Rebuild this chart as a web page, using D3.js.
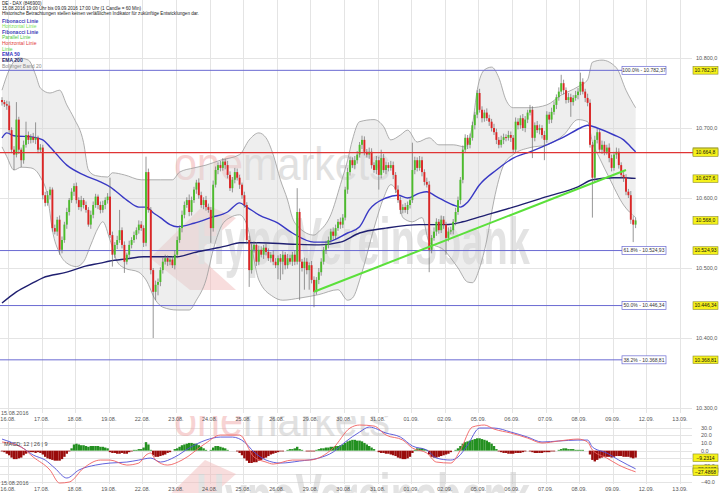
<!DOCTYPE html>
<html>
<head>
<meta charset="utf-8">
<script src="https://cdn.jsdelivr.net/npm/d3@7/dist/d3.min.js"></script>
<style>
  body { margin: 0; background: #fff; }
  svg { display: block; font-family: "Liberation Sans", Arial, sans-serif; }
  .grid line { stroke: #e4e4e4; stroke-width: 1px; shape-rendering: crispEdges; }
  .ticklbl { fill: #555; font-size: 5.5px; }
  .hdr { fill: #222; font-size: 4.6px; }
  .leg { font-size: 5px; }
  .tag rect { fill: #f6f21a; stroke: #8a8a30; stroke-width: 0.6px; }
  .tag text { fill: #111; font-size: 5px; }
  .fibbox rect { fill: #fff; stroke: #6a6ad2; stroke-width: 0.7px; }
  .fibbox text { fill: #333; font-size: 5px; }
</style>
</head>
<body>
<svg id="chart" width="720" height="493"></svg>
<script>
// hourly candles 15.08.2016 19:00 .. 09.09.2016 17:00, 14 per trading day
var dayLabels = ["16.08.","17.08.","18.08.","19.08.","22.08.","23.08.","24.08.","25.08.","26.08.","29.08.",
  "30.08.","31.08.","01.09.","02.09.","05.09.","06.09.","07.09.","08.09.","09.09.","12.09.","13.09."];

var firstOpen = 10740;
var closes = [
  10737, 10734, 10732,
  10697, 10669, 10662, 10712, 10669, 10654, 10676, 10690, 10683, 10687, 10683, 10686, 10669, 10672,
  10604, 10593, 10604, 10612, 10557, 10552, 10569, 10526, 10540, 10562, 10580, 10597, 10609, 10617,
  10597, 10587, 10597, 10590, 10583, 10562, 10576, 10590, 10602, 10590, 10583, 10590, 10597, 10602,
  10547, 10519, 10533, 10540, 10554, 10533, 10509, 10519, 10533, 10540, 10547, 10554, 10562, 10557,
  10536, 10637, 10583, 10497, 10466, 10476, 10480, 10497, 10509, 10514, 10509, 10512, 10504, 10519,
  10540, 10557, 10576, 10590, 10597, 10580, 10597, 10612, 10622, 10604, 10590, 10597, 10587, 10583,
  10557, 10619, 10640, 10647, 10643, 10652, 10647, 10633, 10614, 10626, 10637, 10629, 10619, 10604,
  10590, 10540, 10497, 10526, 10533, 10509, 10526, 10519, 10529, 10523, 10514, 10519, 10509, 10504,
  10514, 10509, 10519, 10504, 10514, 10509, 10519, 10509, 10580, 10509, 10500, 10509, 10497, 10504,
  10483, 10466, 10483, 10494, 10509, 10526, 10533, 10540, 10552, 10546, 10557, 10566, 10562, 10572,
  10612, 10637, 10654, 10647, 10654, 10662, 10676, 10683, 10666, 10662, 10666, 10647, 10640, 10654,
  10633, 10657, 10640, 10647, 10643, 10647, 10633, 10612, 10597, 10583, 10587, 10583, 10590, 10597,
  10640, 10654, 10643, 10654, 10637, 10623, 10619, 10526, 10543, 10552, 10566, 10554, 10569, 10562,
  10543, 10552, 10554, 10566, 10580, 10597, 10626, 10669, 10686, 10676, 10686, 10704, 10719, 10750,
  10726, 10714, 10722, 10714, 10709, 10700, 10694, 10683, 10676, 10683, 10687, 10686, 10690, 10686,
  10669, 10709, 10704, 10714, 10700, 10712, 10722, 10726, 10686, 10704, 10697, 10700, 10690, 10683,
  10719, 10712, 10723, 10733, 10744, 10752, 10764, 10754, 10740, 10744, 10737, 10743, 10747, 10752,
  10766, 10752, 10743, 10736, 10676, 10629, 10683, 10694, 10669, 10676, 10666, 10672, 10657, 10643,
  10662, 10666, 10647, 10633, 10629, 10609, 10604, 10569, 10562, 10568
];
// wick lengths above / below the body, in index points
var upWick = [
  4, 3, 5,
  6, 4, 5, 25, 4, 3, 6, 19, 5, 4, 6, 22, 3, 5,
  4, 5, 6, 4, 3, 5, 4, 6, 5, 4, 6, 3, 5, 4,
  5, 4, 6, 3, 5, 4, 6, 5, 4, 3, 5, 6, 4, 5,
  27, 5, 4, 6, 29, 4, 5, 3, 6, 4, 5, 4, 6, 5,
  4, 22, 5, 4, 3, 6, 5, 4, 6, 5, 4, 3, 5, 6,
  5, 4, 6, 5, 4, 8, 5, 4, 4, 6, 5, 4, 6, 5,
  4, 6, 5, 4, 6, 5, 4, 6, 5, 4, 6, 5, 4, 3,
  5, 4, 6, 8, 5, 4, 6, 5, 4, 6, 5, 4, 6, 5,
  4, 6, 5, 4, 6, 5, 4, 6, 34, 5, 4, 6, 5, 4,
  6, 5, 4, 6, 5, 4, 6, 5, 4, 6, 5, 4, 6, 5,
  4, 6, 5, 4, 6, 5, 4, 6, 5, 4, 6, 5, 4, 6,
  5, 12, 6, 5, 4, 6, 5, 4, 6, 5, 4, 6, 5, 4,
  39, 5, 4, 6, 5, 4, 6, 5, 4, 6, 5, 4, 6, 5,
  4, 6, 5, 4, 6, 5, 4, 6, 5, 4, 6, 5, 4, 4,
  6, 5, 4, 6, 5, 4, 6, 5, 4, 6, 5, 4, 6, 5,
  4, 6, 5, 4, 6, 5, 4, 7, 5, 4, 6, 5, 4, 6,
  5, 4, 6, 5, 4, 6, 12, 5, 4, 6, 5, 4, 6, 5,
  13, 5, 4, 6, 5, 4, 6, 5, 4, 6, 5, 4, 6, 5,
  4, 6, 5, 4, 6, 5, 4, 6, 5, 4
];
var downWick = [
  5, 4, 6,
  4, 5, 22, 4, 6, 10, 5, 4, 6, 5, 4, 6, 5, 4,
  6, 5, 4, 6, 5, 4, 6, 7, 5, 4, 6, 5, 4, 6,
  5, 4, 6, 5, 4, 3, 6, 5, 4, 6, 5, 4, 6, 5,
  4, 17, 5, 6, 4, 5, 16, 4, 6, 5, 4, 6, 5, 4,
  6, 5, 4, 6, 66, 12, 15, 6, 5, 4, 6, 5, 4, 6,
  5, 4, 6, 5, 4, 6, 5, 4, 6, 5, 4, 6, 5, 4,
  21, 5, 4, 6, 5, 4, 6, 5, 4, 6, 5, 4, 6, 5,
  4, 6, 24, 5, 4, 6, 5, 4, 6, 5, 4, 6, 5, 4,
  20, 26, 18, 6, 5, 4, 6, 5, 4, 55, 5, 31, 6, 28,
  5, 22, 4, 6, 5, 4, 6, 5, 4, 6, 5, 4, 6, 5,
  4, 6, 5, 4, 6, 5, 4, 6, 5, 4, 6, 5, 4, 6,
  21, 5, 4, 6, 5, 4, 6, 5, 4, 6, 5, 4, 6, 5,
  4, 6, 5, 4, 6, 5, 4, 32, 5, 4, 6, 5, 4, 6,
  24, 5, 4, 6, 5, 4, 6, 5, 4, 6, 5, 4, 6, 5,
  4, 6, 5, 4, 6, 5, 4, 6, 5, 4, 6, 5, 4, 6,
  5, 4, 6, 5, 4, 6, 5, 4, 29, 5, 4, 6, 5, 29,
  4, 6, 5, 4, 6, 5, 4, 6, 5, 4, 21, 5, 4, 6,
  5, 4, 6, 5, 4, 57, 6, 5, 4, 6, 5, 4, 6, 5,
  4, 6, 5, 4, 6, 5, 4, 6, 25, 5
];

var ema50 = [[0,10686],[2,10693],[5,10689],[13,10687],[17,10683],[20,10673],[27,10647],[34,10633],[41,10623],
  [45,10616],[52,10597],[57,10587],[60,10587],[63,10579],[66,10572],[70,10562],[73,10559],[80,10564],[87,10572],
  [94,10580],[99,10593],[102,10587],[107,10576],[115,10564],[121,10550],[130,10537],[135,10537],[144,10550],
  [149,10559],[153,10583],[160,10600],[165,10604],[169,10600],[174,10607],[177,10609],[181,10602],[188,10590],
  [191,10587],[194,10594],[199,10619],[206,10640],[213,10657],[220,10666],[227,10676],[234,10687],[241,10700],
  [244,10704],[248,10700],[255,10690],[259,10683],[262,10673],[264,10666]];
var ema200 = [[0,10450],[6,10466],[13,10479],[17,10486],[27,10494],[34,10502],[41,10507],[45,10510],[52,10513],
  [59,10516],[66,10516],[73,10516],[80,10522],[87,10527],[94,10532],[99,10536],[107,10536],[121,10534],
  [132,10533],[141,10537],[149,10550],[160,10557],[174,10562],[185,10562],[192,10566],[199,10573],[213,10587],
  [227,10602],[240,10616],[246,10626],[255,10629],[259,10629],[264,10628]];
var bbUpper = [[0,10754],[3,10783],[7,10800],[11,10797],[14,10776],[16,10757],[20,10750],[24,10754],[27,10733],
  [30,10714],[34,10679],[36,10640],[39,10632],[44,10630],[46,10636],[51,10633],[58,10626],[66,10626],[71,10626],
  [74,10637],[80,10643],[85,10647],[91,10654],[99,10662],[103,10683],[107,10693],[110,10686],[113,10662],
  [116,10626],[119,10597],[121,10572],[124,10557],[130,10547],[132,10552],[137,10576],[141,10619],[144,10654],
  [146,10683],[149,10709],[155,10712],[159,10702],[162,10683],[166,10690],[169,10697],[173,10680],[178,10686],
  [182,10676],[188,10676],[193,10673],[196,10704],[198,10754],[201,10783],[204,10787],[207,10772],[210,10740],
  [213,10729],[220,10729],[227,10733],[233,10747],[240,10759],[244,10769],[246,10794],[250,10797],[256,10786],
  [260,10754],[264,10729]];
var bbLower = [[0,10673],[2,10659],[5,10640],[8,10644],[12,10643],[16,10630],[19,10602],[21,10554],[24,10521],
  [27,10507],[31,10502],[34,10509],[37,10533],[40,10557],[42,10566],[45,10540],[48,10509],[51,10500],[57,10494],
  [60,10483],[64,10454],[67,10444],[73,10440],[78,10440],[81,10454],[85,10483],[88,10526],[91,10557],[95,10572],
  [99,10576],[102,10562],[107,10483],[113,10459],[117,10454],[124,10457],[132,10462],[140,10469],[144,10454],
  [146,10457],[150,10494],[155,10557],[159,10600],[162,10619],[165,10604],[167,10572],[171,10566],[175,10572],
  [178,10537],[184,10526],[190,10500],[194,10480],[196,10479],[199,10500],[202,10540],[205,10597],[209,10647],
  [213,10662],[220,10672],[227,10676],[234,10690],[240,10712],[244,10709],[246,10680],[249,10657],[253,10629],
  [259,10590],[264,10572]];

var trendFrom = [130, 10466], trendTo = [260, 10640];
var redLevel = 10664.8;
var fibPcts = ["100.0%", "61.8%", "50.0%", "38.2%"];
var fibValues = [10782.37, 10524.93, 10446.34, 10368.81];
var priceTicks = [10800, 10700, 10600, 10500, 10400, 10300];
var tagValues = [10782.37, 10666.3, 10664.8, 10627.6, 10568.0, 10524.93, 10446.34, 10368.81];
var tagDigits = [2, 1, 1, 1, 1, 2, 2, 2];

// MACD 12 | 26 | 9
var macdHist = [
  -1, -2, -4,
  -6, -9, -11, -11, -10, -9, -6, -4, -2, -2, -2, -3, -2, -3,
  -5, -8, -10, -11, -12, -13, -13, -13, -11, -8, -4, -1, 3, 8,
  9, 8, 7, 7, 6, 5, 6, 6, 6, 6, 5, 5, 4, 3,
  -2, -3, -3, -4, -4, -3, -4, -4, -2, -1, 1, 1, 2, 2,
  4, 11, 8, 1, -6, -8, -8, -7, -6, -5, -3, -2, 0, 2,
  3, 5, 7, 8, 9, 10, 10, 9, 9, 7, 5, 3, 1, 0,
  1, 4, 6, 6, 5, 4, 3, 1, 0, 0, 0, -1, -3, -6,
  -10, -13, -16, -16, -15, -15, -13, -12, -10, -9, -7, -5, -4, -3,
  -2, -1, -1, 0, 1, 2, 2, 3, 5, 2, 1, 0, -1, -1,
  -1, -1, 1, 2, 3, 3, 4, 4, 5, 5, 6, 6, 7, 8,
  10, 12, 13, 14, 14, 13, 13, 12, 10, 8, 6, 4, 2, 0,
  -2, -3, -3, -4, -4, -5, -6, -7, -9, -10, -11, -11, -10, -8,
  -3, 1, 3, 3, 3, 2, 1, -5, -8, -9, -9, -8, -7, -6,
  -5, -4, -2, 0, 1, 3, 6, 9, 11, 12, 13, 14, 15, 16,
  16, 15, 14, 13, 11, 9, 6, 2, -1, -2, -3, -3, -4, -4,
  -4, -3, -3, -3, -2, -1, 0, -1, -2, -3, -3, -3, -3, -2,
  -2, -2, -1, -1, 0, 1, 2, 3, 3, 2, 2, 2, 1, 1,
  1, 1, 0, 0, -5, -12, -14, -12, -10, -9, -8, -8, -8, -9,
  -8, -7, -7, -7, -8, -8, -8, -9, -10, -9
];
var macdLine = [[0,11.2],[8,4.7],[13,-8.3],[20,-25.2],[24,-42],[28,-40.7],[34,-22.6],[41,-12.2],[45,-12.2],
  [52,-18.7],[57,-16.1],[60,-5.7],[62,-3.1],[64,-12.2],[69,-18.7],[75,-12.2],[85,9.9],[91,20.2],[99,20.2],
  [105,-8.3],[110,-14.8],[113,-17.4],[121,-12.2],[128,-12.2],[138,3.4],[145,29.3],[149,33.2],[155,31.9],
  [160,20.2],[167,13.7],[171,3.4],[177,-3.1],[181,-14.8],[187,-16.1],[191,0.8],[196,30.6],[201,33.2],
  [205,28],[212,22.8],[219,16.3],[225,9.9],[232,12.5],[240,15],[244,11.2],[246,0.8],[252,-9.6],[257,-18.7],
  [264,-27.5]];
var signalLine = [[0,15],[8,4.7],[13,-5.7],[18,-12.2],[22,-22.6],[27,-35.5],[32,-25.2],[39,-18.7],[45,-16.1],
  [52,-14.8],[57,-12.2],[62,-9.6],[66,-14.8],[72,-8.3],[78,3.4],[85,13.7],[91,17.6],[96,17.6],[101,11.2],
  [105,-1.8],[110,-12.2],[116,-16.1],[124,-13.5],[132,-9.6],[138,-1.8],[143,11.2],[149,24.1],[153,30.6],
  [160,22.8],[166,17.6],[171,6],[177,0.8],[181,-9.6],[187,-12.2],[190,-8.3],[194,7.3],[199,29.3],[205,29.3],
  [212,24.1],[219,17.6],[225,11.2],[232,12.5],[240,13.7],[244,13.7],[246,4.7],[252,-3.1],[257,-12.2],
  [264,-23.6]];
var macdTicks = [30, 20, 10, 0, -10, -20, -30, -40];
var macdTags = [-9.2314, -23.6187, -27.4868];

var header = ["DE - DAX (846900)",
  "15.08.2016 19:00 Uhr bis 09.09.2016 17:00 Uhr (1 Candle = 60 Min)",
  "Historische Betrachtungen stellen keinen verläßlichen Indikator für zukünftige Entwicklungen dar."];
var legendNames = ["Fibonacci Linie", "Horizontal Linie", "Fibonacci Linie", "Parallel Linie", "Horizontal Linie",
  "Linie", "EMA 50", "EMA 200", "Bollinger Band 20"];
var legendColors = ["#4040b8", "#7be05a", "#4040b8", "#4cc83a", "#e23a3a", "#5ad63c", "#3434c0", "#1c1c6a", "#8a8a8a"];
var legendBold = [true, false, true, false, false, false, true, true, false];

var svg = d3.select("#chart");
var de = d3.formatLocale({decimal: ",", thousands: ".", grouping: [3], currency: ["", ""]});

var x = d3.scaleLinear().domain([0, 264]).range([2, 635.6]);
var y = d3.scaleLinear().domain([10300, 10800]).range([408, 58]);
var ym = d3.scaleLinear().domain([-40, 30]).range([481.5, 427.5]);
var dayX = function(d) { return x(3 + 14 * d - 0.5); };

var mainTop = 0, mainBot = 413, subTop = 422, subBot = 484, gridRight = 692;

// grids
var grid = svg.append("g").attr("class", "grid");
[[mainTop, mainBot], [subTop, subBot]].forEach(function(p) {
  grid.selectAll(null).data(dayLabels).enter().append("line")
    .attr("x1", function(d, i) { return Math.round(dayX(i)) + 0.5; })
    .attr("x2", function(d, i) { return Math.round(dayX(i)) + 0.5; })
    .attr("y1", p[0]).attr("y2", p[1]);
});
grid.selectAll(null).data(priceTicks).enter().append("line")
  .attr("x1", 0).attr("x2", gridRight)
  .attr("y1", function(d) { return Math.round(y(d)) + 0.5; })
  .attr("y2", function(d) { return Math.round(y(d)) + 0.5; });
grid.selectAll(null).data(macdTicks).enter().append("line")
  .attr("x1", 0).attr("x2", gridRight)
  .attr("y1", function(d) { return Math.round(ym(d)) + 0.5; })
  .attr("y2", function(d) { return Math.round(ym(d)) + 0.5; });

// watermark, same artwork in both panels, clipped
var defs = svg.append("defs");
defs.append("clipPath").attr("id", "clipMain").append("rect").attr("x", 0).attr("y", 0).attr("width", 692).attr("height", mainBot);
defs.append("clipPath").attr("id", "clipSub").append("rect").attr("x", 0).attr("y", 416).attr("width", 692).attr("height", 77);
function watermark(g, oy) {
  var w = g.append("g").attr("transform", "translate(0," + oy + ")").attr("opacity", 0.5);
  var t = w.append("text").attr("x", 174).attr("y", 0).style("font-size", "46px")
    .attr("textLength", 216).attr("lengthAdjust", "spacingAndGlyphs");
  t.append("tspan").attr("fill", "#f0a8a8").text("one");
  t.append("tspan").attr("fill", "#c4c4c4").text("markets");
  w.append("path").attr("fill", "#f3bcbc")
    .attr("d", "M150,78 L205,24 L236,38 L196,74 L236,110 L190,110 Z");
  w.append("text").attr("x", 196).attr("y", 84).attr("fill", "#c8c8c8")
    .style("font-size", "66px").style("font-weight", "bold")
    .attr("textLength", 334).attr("lengthAdjust", "spacingAndGlyphs").text("HypoVereinsbank");
}
watermark(svg.append("g").attr("clip-path", "url(#clipMain)"), 180);
watermark(svg.append("g").attr("clip-path", "url(#clipSub)"), 436);

// bollinger fill + outlines
var line = d3.line().x(function(d) { return x(d[0]); }).y(function(d) { return y(d[1]); }).curve(d3.curveMonotoneX);
var lowerRev = bbLower.slice().reverse();
svg.append("path")
  .attr("d", line(bbUpper) + "L" + line(lowerRev).slice(1) + "Z")
  .attr("fill", "#d9d9d9").attr("fill-opacity", 0.45);
[bbUpper, bbLower].forEach(function(b) {
  svg.append("path").attr("d", line(b)).attr("fill", "none").attr("stroke", "#9a9a9a").attr("stroke-width", 0.8);
});

// fibonacci levels
svg.selectAll(".fib").data(fibValues).enter().append("line")
  .attr("x1", 0).attr("x2", 622)
  .attr("y1", function(d) { return y(d); }).attr("y2", function(d) { return y(d); })
  .attr("stroke", "#6a6ad2").attr("stroke-width", 1);

// EMAs
svg.append("path").attr("d", line(ema200)).attr("fill", "none").attr("stroke", "#1f1f70").attr("stroke-width", 1.4);
svg.append("path").attr("d", line(ema50)).attr("fill", "none").attr("stroke", "#3838c4").attr("stroke-width", 1.4);

// candles
var candles = closes.map(function(c, i) {
  var o = i ? closes[i - 1] : firstOpen;
  return {i: i, o: o, c: c, h: Math.max(o, c) + upWick[i], l: Math.min(o, c) - downWick[i]};
});
var cg = svg.append("g");
cg.selectAll("line").data(candles).enter().append("line")
  .attr("x1", function(d) { return x(d.i); }).attr("x2", function(d) { return x(d.i); })
  .attr("y1", function(d) { return y(d.h); }).attr("y2", function(d) { return y(d.l); })
  .attr("stroke", "#6a6a6a").attr("stroke-width", 0.7);
cg.selectAll("rect").data(candles).enter().append("rect")
  .attr("x", function(d) { return x(d.i) - 0.95; })
  .attr("width", 1.9)
  .attr("y", function(d) { return y(Math.max(d.o, d.c)); })
  .attr("height", function(d) { return Math.max(1, Math.abs(y(d.o) - y(d.c))); })
  .attr("fill", function(d) { return d.c >= d.o ? "#4cbc2c" : "#dc2626"; });

// trend line and horizontal level
svg.append("line")
  .attr("x1", x(trendFrom[0])).attr("y1", y(trendFrom[1]))
  .attr("x2", x(trendTo[0])).attr("y2", y(trendTo[1]))
  .attr("stroke", "#5be03a").attr("stroke-width", 2);
svg.append("line")
  .attr("x1", 0).attr("x2", 696).attr("y1", y(redLevel)).attr("y2", y(redLevel))
  .attr("stroke", "#e03434").attr("stroke-width", 1.4);

// fib label boxes
var fb = svg.selectAll(".fibbox").data(fibValues).enter().append("g").attr("class", "fibbox")
  .attr("transform", function(d) { return "translate(622," + y(d) + ")"; });
fb.append("rect").attr("x", 0).attr("y", -4).attr("width", 44).attr("height", 8);
fb.append("text").attr("x", 22).attr("y", 1.8).attr("text-anchor", "middle")
  .text(function(d, i) { return fibPcts[i] + " - " + de.format(",.2f")(d); });

// price axis
var ax = svg.append("g").attr("transform", "translate(696,0)")
  .call(d3.axisRight(y).tickValues(priceTicks).tickSize(0).tickPadding(0).tickFormat(de.format(",.1f")));
ax.select(".domain").remove();
ax.selectAll("text").attr("class", "ticklbl").attr("font-size", null).attr("fill", null);

var tg = svg.selectAll(".ptag").data(tagValues).enter().append("g").attr("class", "tag")
  .attr("transform", function(d) { return "translate(693," + y(d) + ")"; });
tg.append("rect").attr("x", 0).attr("y", -3.8).attr("width", 25).attr("height", 7.6);
tg.append("text").attr("x", 12.5).attr("y", 1.8).attr("text-anchor", "middle")
  .text(function(d, i) { return de.format(",." + tagDigits[i] + "f")(d); });

// MACD panel
svg.append("g").selectAll("rect").data(macdHist).enter().append("rect")
  .attr("x", function(d, i) { return x(i) - 1.2; }).attr("width", 2.4)
  .attr("y", function(d) { return ym(Math.max(0, d)); })
  .attr("height", function(d) { return Math.abs(ym(d) - ym(0)); })
  .attr("fill", function(d) { return d >= 0 ? "#239020" : "#9a0c0c"; });
var mline = d3.line().x(function(d) { return x(d[0]); }).y(function(d) { return ym(d[1]); }).curve(d3.curveMonotoneX);
svg.append("path").attr("d", mline(signalLine)).attr("fill", "none").attr("stroke", "#5050d8").attr("stroke-width", 0.9);
svg.append("path").attr("d", mline(macdLine)).attr("fill", "none").attr("stroke", "#f06060").attr("stroke-width", 0.9);

var mx = svg.append("g").attr("transform", "translate(701,0)")
  .call(d3.axisRight(ym).tickValues(macdTicks).tickSize(0).tickPadding(0).tickFormat(d3.format(".1f")));
mx.select(".domain").remove();
mx.selectAll("text").attr("class", "ticklbl").attr("font-size", null).attr("fill", null);
var mt = svg.selectAll(".mtag").data(macdTags).enter().append("g").attr("class", "tag")
  .attr("transform", function(d) { return "translate(693," + ym(d) + ")"; });
mt.append("rect").attr("x", 0).attr("y", -3.8).attr("width", 25).attr("height", 7.6);
mt.append("text").attr("x", 12.5).attr("y", 1.8).attr("text-anchor", "middle").text(function(d) { return d3.format(".4f")(d); });
svg.append("text").attr("x", 4).attr("y", 446).attr("class", "ticklbl").style("fill", "#444").text("MACD: 12 | 26 | 9");

// date labels
[421, 491].forEach(function(by) {
  svg.selectAll(null).data(dayLabels).enter().append("text").attr("class", "ticklbl")
    .attr("x", function(d, i) { return dayX(i); }).attr("y", by).attr("text-anchor", "middle")
    .text(function(d) { return d; });
  svg.append("text").attr("class", "ticklbl").attr("x", 1).attr("y", by - 6).text("15.08.2016");
});

// header and legend
svg.selectAll(".hdr").data(header).enter().append("text").attr("class", "hdr")
  .attr("x", 2).attr("y", function(d, i) { return 4.5 + i * 5; }).text(function(d) { return d; });
svg.selectAll(".leg").data(legendNames).enter().append("text").attr("class", "leg")
  .attr("x", 2).attr("y", function(d, i) { return 22.5 + i * 5.65; })
  .attr("fill", function(d, i) { return legendColors[i]; })
  .style("font-weight", function(d, i) { return legendBold[i] ? "bold" : "normal"; })
  .text(function(d) { return d; });
</script>
</body>
</html>
